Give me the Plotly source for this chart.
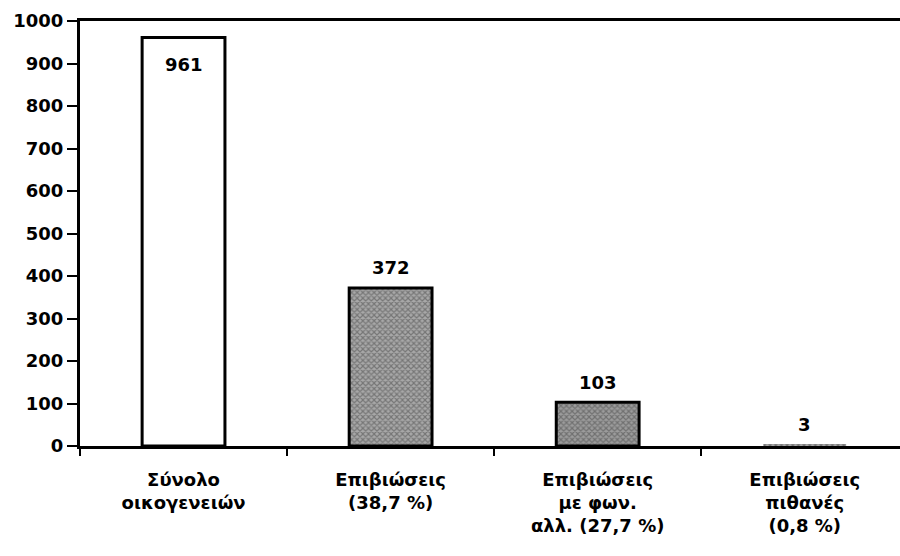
import plotly.graph_objects as go

categories = ["Σύνολο<br>οικογενειών", "Επιβιώσεις<br>(38,7 %)",
              "Επιβιώσεις<br>με φων.<br>αλλ. (27,7 %)", "Επιβιώσεις<br>πιθανές<br>(0,8 %)"]
values = [961, 372, 103, 3]
y_ticks = [0, 100, 200, 300, 400, 500, 600, 700, 800, 900, 1000]

fill_colors = ["#ffffff", "#a8a8a8", "#9c9c9c", "#a8a8a8"]
pattern_shapes = ["", "x", "x", "x"]
outline_widths = [3, 3, 3, 0]
label_shifts = [-27, 20, 20, 20]

fig = go.Figure(go.Bar(
    x=categories, y=values, width=0.4,
    marker=dict(color=fill_colors, line=dict(color="black", width=outline_widths),
                pattern=dict(shape=pattern_shapes, fgcolor="#141414",
                             size=4, solidity=0.5, fillmode="overlay")),
))

for cat, val, shift in zip(categories, values, label_shifts):
    fig.add_annotation(x=cat, y=val, text=str(val), showarrow=False, yshift=shift,
                       yanchor="middle", xanchor="center",
                       font=dict(family="DejaVu Sans", size=18, color="black", weight="bold"))

fig.update_layout(
    width=900, height=556, margin=dict(l=80, r=0, t=21, b=110),
    plot_bgcolor="white", paper_bgcolor="white", showlegend=False,
)
fig.update_xaxes(type="category", range=[-0.5, 3.46], tickson="boundaries",
                 showline=True, linecolor="black", linewidth=3, mirror=True,
                 ticks="outside", ticklen=7, tickwidth=2, tickcolor="black",
                 ticklabelstandoff=15, automargin=False,
                 tickfont=dict(family="DejaVu Sans", size=18, color="black", weight="bold"),
                 showgrid=False)
fig.update_yaxes(range=[0, 1000], tickvals=y_ticks, showline=True, linecolor="black",
                 linewidth=3, ticks="outside", ticklen=10, tickwidth=2, tickcolor="black",
                 automargin=False,
                 tickfont=dict(family="DejaVu Sans", size=18, color="black", weight="bold"),
                 showgrid=False, zeroline=False)

fig.write_html("out.html", config={"displayModeBar": False},
               post_script="document.body.style.margin='0';")
